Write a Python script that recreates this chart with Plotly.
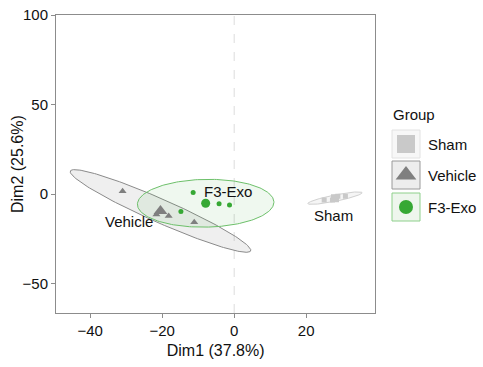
import numpy as np
import plotly.graph_objects as go

# ---------------- data ----------------
groups = ["Sham", "Vehicle", "F3-Exo"]
sham_x = [25.0, 27.3, 28.8, 30.9]
sham_y = [-3.2, -3.2, -1.2, -1.2]
vehicle_x = [-31.0, -21.6, -18.2, -11.1]
vehicle_y = [1.7, -11.3, -12.2, -15.6]
f3exo_x = [-11.4, -4.2, -1.3, -14.8]
f3exo_y = [0.9, -5.4, -6.0, -9.7]
x_ticks = [-40, -20, 0, 20]
y_ticks = [-50, 0, 50, 100]
x_title = "Dim1 (37.8%)"
y_title = "Dim2 (25.6%)"
legend_title = "Group"

# ---------------- styles ----------------
colors = {"Sham": "#C9C9C9", "Vehicle": "#7F7F7F", "F3-Exo": "#36A834"}
fills = {"Sham": "rgba(201,201,201,0.18)", "Vehicle": "rgba(127,127,127,0.12)",
         "F3-Exo": "rgba(54,168,52,0.08)"}
lines = {"Sham": "#D0D0D0", "Vehicle": "#8A8A8A", "F3-Exo": "#6DC06A"}
symbols = {"Sham": "square", "Vehicle": "triangle-up", "F3-Exo": "circle"}
small = {"Sham": 5, "Vehicle": 7, "F3-Exo": 5}
big = {"Sham": 8, "Vehicle": 12, "F3-Exo": 9}
label_shift = {"Sham": (-1, -17), "Vehicle": (-31, -11), "F3-Exo": (22, 11.5)}
data = {"Sham": (sham_x, sham_y), "Vehicle": (vehicle_x, vehicle_y),
        "F3-Exo": (f3exo_x, f3exo_y)}
FONT = "Liberation Sans, Arial, sans-serif"

# chi-square (2 df) 99% radius
radius = np.sqrt(-2.0 * np.log(1 - 0.99))


def ellipse(xs, ys, n=200):
    pts = np.column_stack([xs, ys]).astype(float)
    c = pts.mean(axis=0)
    cov = np.cov(pts.T)
    vals, vecs = np.linalg.eigh(cov)
    t = np.linspace(0, 2 * np.pi, n)
    circ = np.vstack([np.cos(t), np.sin(t)])
    e = vecs @ (np.sqrt(vals)[:, None] * circ) * radius
    return c[0] + e[0], c[1] + e[1], c


fig = go.Figure()

# ellipses
centers = {}
for g in groups:
    xs, ys = data[g]
    ex, ey, c = ellipse(xs, ys)
    centers[g] = c
    fig.add_trace(go.Scatter(x=ex, y=ey, mode="lines", fill="toself",
                             fillcolor=fills[g], line=dict(color=lines[g], width=1),
                             hoverinfo="skip", showlegend=False))

# points
for g in groups:
    xs, ys = data[g]
    fig.add_trace(go.Scatter(x=xs, y=ys, mode="markers", showlegend=False,
                             marker=dict(symbol=symbols[g], size=small[g], color=colors[g],
                                         line=dict(width=0))))
    c = centers[g]
    fig.add_trace(go.Scatter(x=[c[0]], y=[c[1]], mode="markers", showlegend=False,
                             marker=dict(symbol=symbols[g], size=big[g], color=colors[g],
                                         line=dict(width=0))))
    fig.add_annotation(x=c[0], y=c[1], text=g, showarrow=False,
                       xshift=label_shift[g][0], yshift=label_shift[g][1],
                       font=dict(family=FONT, size=15, color="#111111"))

# zero line
fig.add_shape(type="line", x0=0, x1=0, y0=0, y1=1, xref="x", yref="y domain",
              line=dict(color="#DCDCDC", width=1, dash="dash"), layer="below")

# ---------------- custom legend (pixel space axis) ----------------
L, T, B = 56, 15, 313
W = 483
leg_x0 = 380
key_x0, key_x1 = 392, 420
key_rows = [(130, 158), (161, 189), (193, 221)]
leg_size = {"Sham": 18, "Vehicle": 18, "F3-Exo": 14}
leg_border = {"Sham": "#E2E2E2", "Vehicle": "#9A9A9A", "F3-Exo": "#8ED08B"}
leg_fill = {"Sham": "#F7F7F7", "Vehicle": "#EDEDED", "F3-Exo": "#EEF6ED"}
for g, (y0, y1) in zip(groups, key_rows):
    fig.add_shape(type="rect", xref="x2", yref="y2", x0=key_x0, x1=key_x1, y0=y0, y1=y1,
                  line=dict(color=leg_border[g], width=1), fillcolor=leg_fill[g],
                  layer="below")
    fig.add_trace(go.Scatter(x=[(key_x0 + key_x1) / 2], y=[(y0 + y1) / 2], xaxis="x2",
                             yaxis="y2", mode="markers", showlegend=False, hoverinfo="skip",
                             marker=dict(symbol=symbols[g], size=leg_size[g], color=colors[g],
                                         line=dict(width=0))))
    fig.add_annotation(x=426, y=(y0 + y1) / 2, xref="x2", yref="y2", text=g,
                       showarrow=False, xanchor="left", yanchor="middle",
                       font=dict(family=FONT, size=15, color="#111111"))
fig.add_annotation(x=391, y=114, xref="x2", yref="y2", text=legend_title, showarrow=False,
                   xanchor="left", yanchor="middle",
                   font=dict(family=FONT, size=15, color="#111111"))

# y axis title (placed explicitly in paper space)
fig.add_annotation(x=(17 - L) / (W - L), y=0.5, xref="paper", yref="paper", text=y_title,
                   showarrow=False, textangle=-90, xanchor="center", yanchor="middle",
                   font=dict(family=FONT, size=16, color="#111111"))

main_w = (375.3 - L) / (W - L)
axis_common = dict(showgrid=False, zeroline=False, showline=True, linecolor="#8C8C8C",
                   linewidth=1, mirror=True, ticks="outside", ticklen=4, tickcolor="#8C8C8C",
                   automargin=False,
                   tickfont=dict(family=FONT, size=15, color="#111111"))
fig.update_layout(
    width=483, height=367,
    margin=dict(l=L, r=0, t=T, b=367 - B, autoexpand=False),
    paper_bgcolor="white", plot_bgcolor="white",
    showlegend=False,
    xaxis=dict(domain=[0, main_w], range=[-49.5, 39.2], tickvals=x_ticks,
               title=dict(text=x_title, font=dict(family=FONT, size=16, color="#111111"),
                          standoff=6), **axis_common),
    yaxis=dict(range=[-66.3, 100], tickvals=y_ticks, **axis_common),
    xaxis2=dict(domain=[(leg_x0 - L) / (W - L), 1], range=[leg_x0, W], visible=False,
                anchor="y2", fixedrange=True),
    yaxis2=dict(domain=[0, 1], range=[B, T], visible=False, anchor="x2", fixedrange=True),
)

fig.write_html("out.html", config={"displayModeBar": False},
               post_script="document.body.style.margin='0';"
                           "document.body.style.overflow='hidden';")
